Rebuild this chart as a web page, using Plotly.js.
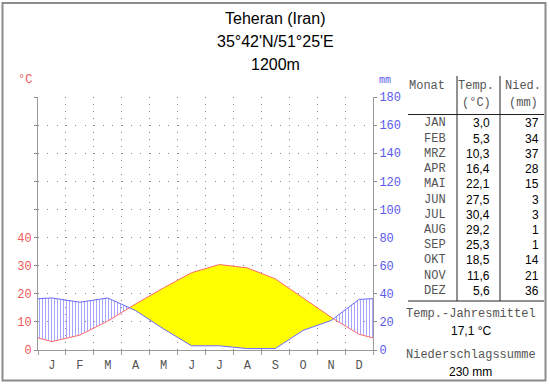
<!DOCTYPE html>
<html>
<head>
<meta charset="utf-8">
<script src="https://cdn.plot.ly/plotly-3.0.1.min.js"></script>
<style>html,body{margin:0;padding:0;background:#fff;}#chart{width:550px;height:384px;}</style>
</head>
<body>
<div id="chart"></div>
<script>
// ---- data ----
const monthLetters = ['J','F','M','A','M','J','J','A','S','O','N','D'];
const monthNames = ['JAN','FEB','MRZ','APR','MAI','JUN','JUL','AUG','SEP','OKT','NOV','DEZ'];
const temp = [3.0, 5.3, 10.3, 16.4, 22.1, 27.5, 30.4, 29.2, 25.3, 18.5, 11.6, 5.6];
const precip = [37, 34, 37, 28, 15, 3, 3, 1, 1, 14, 21, 36];
const tempTicks = [0, 10, 20, 30, 40];
const precipTicks = [0, 20, 40, 60, 80, 100, 120, 140, 160, 180];
const titleLines = ['Teheran (Iran)', "35°42'N/51°25'E", '1200m'];

// ---- derived curves (month midpoints, edges = Dec/Jan mean) ----
const xs = [0], ts = [(temp[11] + temp[0]) / 2], ps = [(precip[11] + precip[0]) / 4];
for (let i = 0; i < 12; i++) { xs.push(i + 0.5); ts.push(temp[i]); ps.push(precip[i] / 2); }
xs.push(12); ts.push(ts[0]); ps.push(ps[0]);
const X = [], TT = [], PP = [];
for (let k = 0; k < xs.length; k++) {
  X.push(xs[k]); TT.push(ts[k]); PP.push(ps[k]);
  if (k < xs.length - 1) {
    const d0 = ps[k] - ts[k], d1 = ps[k + 1] - ts[k + 1];
    if (d0 * d1 < 0) {
      const f = d0 / (d0 - d1);
      const x = xs[k] + f * (xs[k + 1] - xs[k]);
      const y = ts[k] + f * (ts[k + 1] - ts[k]);
      X.push(x); TT.push(y); PP.push(y);
    }
  }
}
const HI = X.map((_, i) => Math.max(TT[i], PP[i]));
const LO = X.map((_, i) => Math.min(TT[i], PP[i]));

const RED = '#f05a5a', BLUE = '#5a5af0', GRID = '#8a8a8a', AXIS = '#999999';
const MONO = '"Liberation Mono", "Courier New", monospace';
const SANS = '"Liberation Sans", Arial, sans-serif';

const traces = [
  {x: X, y: TT, mode: 'lines', line: {width: 0}, hoverinfo: 'skip', showlegend: false},
  {x: X, y: HI, mode: 'lines', line: {width: 0}, fill: 'tonexty', fillcolor: 'rgba(255,255,255,0)',
   fillpattern: {shape: '|', size: 3, solidity: 0.3, fgcolor: '#9c9cff', bgcolor: 'rgba(255,255,255,0)'},
   hoverinfo: 'skip', showlegend: false},
  {x: X, y: TT, mode: 'lines', line: {width: 0}, hoverinfo: 'skip', showlegend: false},
  {x: X, y: LO, mode: 'lines', line: {width: 0}, fill: 'tonexty', fillcolor: '#ffff00', hoverinfo: 'skip', showlegend: false},
  {x: X, y: TT, mode: 'lines', line: {color: '#ff6a6a', width: 1}, hoverinfo: 'skip', showlegend: false},
  {x: X, y: PP.map(v => v * 2), yaxis: 'y2', mode: 'lines', line: {color: '#6a6aff', width: 1}, hoverinfo: 'skip', showlegend: false}
];

// ---- pixel helpers for overlay text / table ----
const L = 38, R = 373, T = 97, B = 350;
const px = X_ => (X_ - L) / (R - L);
const py = Y_ => (B - Y_) / (B - T);

const ann = [];
function txt(text, x, y, opts) {
  ann.push(Object.assign({text: text, x: px(x), y: py(y), xref: 'paper', yref: 'paper', showarrow: false,
    xanchor: 'center', yanchor: 'middle', font: {family: MONO, size: 12, color: '#555'}}, opts || {}));
}
titleLines.forEach((t, i) => txt(t, 275, [18, 42, 64][i], {font: {family: SANS, size: 16, color: '#000'}}));
txt('°C', 25, 80, {font: {family: MONO, size: 12, color: RED}});
txt('mm', 385, 81, {font: {family: MONO, size: 10, color: BLUE}});

txt('Monat', 427, 86);
txt('Temp.', 476, 86);
txt('(°C)', 476, 103);
txt('Nied.', 523, 86);
txt('(mm)', 523, 103);
const fmt = v => v.toFixed(1).replace('.', ',');
monthNames.forEach((m, i) => {
  const y = 123.5 + i * 15.2;
  txt(m, 448, y, {xanchor: 'right'});
  txt(fmt(temp[i]), 492, y, {xanchor: 'right', font: {family: SANS, size: 12, color: '#000'}});
  txt(String(precip[i]), 541, y, {xanchor: 'right', font: {family: SANS, size: 12, color: '#000'}});
});
const meanT = temp.reduce((a, b) => a + b, 0) / temp.length;
const sumP = precip.reduce((a, b) => a + b, 0);
txt('Temp.-Jahresmittel', 471, 313.5);
txt(fmt(meanT) + ' °C', 471, 331, {font: {family: SANS, size: 12, color: '#000'}});
txt('Niederschlagssumme', 471, 354.5);
txt(sumP + ' mm', 471, 372, {font: {family: SANS, size: 12, color: '#000'}});

const shapes = [
  {type: 'rect', xref: 'paper', yref: 'paper', x0: px(2.5), x1: px(545.5), y0: py(3), y1: py(380.5), line: {color: '#8c8c8c', width: 2}},
  {type: 'line', xref: 'paper', yref: 'paper', x0: px(457), x1: px(457), y0: py(76), y1: py(301), line: {color: '#222', width: 1}},
  {type: 'line', xref: 'paper', yref: 'paper', x0: px(500), x1: px(500), y0: py(76), y1: py(301), line: {color: '#222', width: 1}},
  {type: 'line', xref: 'paper', yref: 'paper', x0: px(408), x1: px(544), y0: py(114.5), y1: py(114.5), line: {color: '#222', width: 1}},
  {type: 'line', xref: 'paper', yref: 'paper', x0: px(408), x1: px(544), y0: py(301), y1: py(301), line: {color: '#222', width: 1}}
];

const layout = {
  width: 550, height: 384,
  margin: {l: L, r: 550 - R, t: T, b: 384 - B, pad: 0},
  paper_bgcolor: '#fff', plot_bgcolor: '#fff',
  showlegend: false,
  xaxis: {
    range: [0, 12], fixedrange: true, zeroline: false,
    tickmode: 'array', tickvals: monthLetters.map((_, i) => i + 0.5), ticktext: monthLetters,
    ticks: 'outside', ticklen: 4, tickcolor: 'rgba(0,0,0,0)', showgrid: false,
    tickfont: {family: MONO, size: 12, color: '#555'},
    showline: true, linecolor: AXIS, linewidth: 1,
    minor: {tickmode: 'linear', tick0: 0, dtick: 1, ticks: 'outside', ticklen: 4, tickcolor: AXIS,
            showgrid: true, gridcolor: GRID, gridwidth: 1, griddash: '1px,6px'}
  },
  yaxis: {
    range: [0, 90], fixedrange: true, zeroline: false,
    tickmode: 'array', tickvals: tempTicks, ticktext: tempTicks.map(String),
    ticks: 'outside', ticklen: 3, tickcolor: GRID,
    tickfont: {family: MONO, size: 12, color: RED},
    showgrid: true, gridcolor: GRID, gridwidth: 1, griddash: '1px,8.3px',
    showline: true, linecolor: AXIS, linewidth: 1,
    minor: {tickmode: 'linear', tick0: 0, dtick: 10, ticks: 'outside', ticklen: 3, tickcolor: GRID,
            showgrid: true, gridcolor: GRID, gridwidth: 1, griddash: '1px,8.3px'}
  },
  yaxis2: {
    overlaying: 'y', side: 'right', range: [0, 180], fixedrange: true, zeroline: false,
    tickmode: 'array', tickvals: precipTicks, ticktext: precipTicks.map(String),
    ticks: 'outside', ticklen: 3, tickcolor: GRID,
    tickfont: {family: MONO, size: 12, color: BLUE},
    showgrid: false, showline: true, linecolor: AXIS, linewidth: 1
  },
  annotations: ann,
  shapes: shapes
};

Plotly.newPlot('chart', traces, layout, {staticPlot: true, displayModeBar: false});
</script>
</body>
</html>
